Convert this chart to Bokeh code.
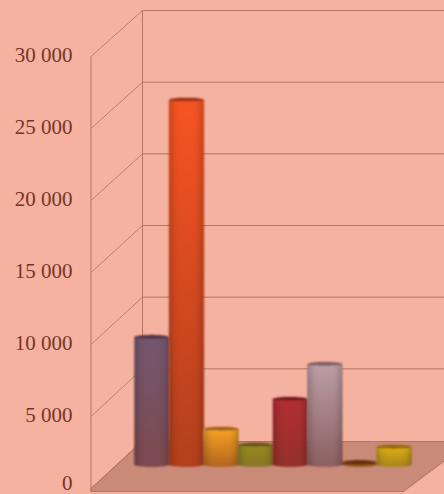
import numpy as np
from bokeh.plotting import figure
from bokeh.models import Range1d, FixedTicker
from bokeh.embed import file_html
from bokeh.resources import INLINE

categories = ["A", "B", "C", "D", "E", "F", "G", "H"]
values = [8800, 25300, 2450, 1340, 4530, 6960, 80, 1200]
top_colors = ["#745670", "#f85322", "#f8a326", "#9a8a22", "#b32d33", "#bca0a8", "#8c4c12", "#e0b014"]
bottom_colors = ["#7c4a50", "#b43f1c", "#b8681e", "#8a7a24", "#96302a", "#8f6062", "#8c4c12", "#ae8a1c"]
tick_values = [0, 5000, 10000, 15000, 20000, 25000, 30000]
tick_labels = ["0", "5 000", "10 000", "15 000", "20 000", "25 000", "30 000"]

BG = "#f6b2a0"
WALL = "#b87262"
FLOOR = "#c98a78"
TEXT = "#733528"

W, H = 444, 494
LEFT = 88
PX_PER_VALUE = 72 / 5000
PX_PER_CAT = 34.6
LABEL_ZERO_PX = 486
BAR_ZERO_PX = 464
FIRST_BAR_PX = 151
ELL_PX = 2.4
PAD_PX = 2
SS = 3


def X(px):
    return (px - FIRST_BAR_PX) / PX_PER_CAT


def Y(py):
    return (LABEL_ZERO_PX - py) / PX_PER_VALUE


p = figure(
    frame_width=W - LEFT, frame_height=H, output_backend="svg", toolbar_location=None,
    x_range=Range1d(X(LEFT), X(W)), y_range=Range1d(Y(H), Y(0)),
    background_fill_color=BG, border_fill_color=BG, outline_line_color=None,
    min_border_left=LEFT, min_border_right=0, min_border_top=0, min_border_bottom=0,
    styles={"background-color": BG},
)
p.xaxis.visible = False
p.grid.visible = False
ax = p.yaxis[0]
ax.ticker = FixedTicker(ticks=tick_values)
ax.major_label_overrides = dict(zip(tick_values, tick_labels))
ax.axis_line_color = None
ax.major_tick_line_color = None
ax.minor_tick_line_color = None
ax.major_label_standoff = 10
ax.major_label_text_font = "Liberation Serif"
ax.major_label_text_font_size = "21px"
ax.major_label_text_color = TEXT

# floor
p.patch([X(90.5), X(142), X(470), X(403), X(90.5)],
        [Y(488), Y(441), Y(441), Y(491), Y(491)],
        fill_color=FLOOR, line_color=WALL, line_width=1)

# walls: back lines, side diagonals
back_px = [440 - v * 430 / 30000 for v in tick_values]
front_px = [488 - v * 432 / 30000 for v in tick_values]
for bp, fp, v in zip(back_px, front_px, tick_values):
    if v:
        p.line([X(142), X(W)], [Y(bp), Y(bp)], line_color=WALL, line_width=1)
    p.line([X(90.5), X(142)], [Y(fp), Y(bp)], line_color=WALL, line_width=1, line_alpha=0.85)
p.line([X(142), X(142)], [Y(back_px[0]), Y(back_px[-1])], line_color=WALL, line_width=1)
p.line([X(90.5), X(90.5)], [Y(491), Y(front_px[-1])], line_color=WALL, line_width=1)


def hex_rgb(c):
    return np.array([int(c[i:i + 2], 16) for i in (1, 3, 5)], float)


def blur(a, axis, n=3, passes=2):
    k = np.ones(2 * n + 1) / (2 * n + 1)
    for _ in range(passes):
        a = np.apply_along_axis(lambda s: np.convolve(s, k, mode="same"), axis, a)
    return a


def cylinder(val, top, bottom):
    """RGBA picture of one soft shaded cylinder, row 0 at its bottom."""
    h_px = val * PX_PER_VALUE
    rows = int(round((h_px + 2 * ELL_PX + 2 * PAD_PX) * SS))
    cols = int(round((PX_PER_CAT + 2 * PAD_PX) * SS))
    yy = (np.arange(rows) + 0.5) / SS - ELL_PX - PAD_PX
    xx = ((np.arange(cols) + 0.5) / SS - PAD_PX) / PX_PER_CAT * 2 - 1
    U, V = np.meshgrid(xx, yy)
    t = np.clip(V / max(h_px, 1), 0, 1)
    c_top, c_bot = hex_rgb(top), hex_rgb(bottom)
    rgb = c_bot[None, None] * (1 - t[..., None]) + c_top[None, None] * t[..., None]
    shade = 1 - 0.24 * np.clip(np.abs(U), 0, 1) ** 4
    rgb = rgb * shade[..., None]
    root = np.sqrt(np.clip(1 - U ** 2, 0, 1))
    inside = (np.abs(U) <= 1) & (V >= -ELL_PX * root) & (V <= h_px + ELL_PX * root)
    cap = V >= h_px - ELL_PX * root * 0.5
    rgb[cap] = c_top * 0.58 + np.array([15, 0, 0])
    alpha = inside.astype(float)
    pre = rgb * alpha[..., None]
    for axis in (0, 1):
        alpha = blur(alpha, axis)
        pre = blur(pre, axis)
    rgb_out = pre / np.maximum(alpha[..., None], 1e-3)
    out = np.zeros((rows, cols), dtype=np.uint32)
    view = out.view(np.uint8).reshape(rows, cols, 4)
    view[..., :3] = np.clip(rgb_out, 0, 255).astype(np.uint8)
    view[..., 3] = (np.clip(alpha, 0, 1) * 255).astype(np.uint8)
    return out


pad_v = (ELL_PX + PAD_PX) / PX_PER_VALUE
pad_c = PAD_PX / PX_PER_CAT
for i, (val, tc, bc) in enumerate(zip(values, top_colors, bottom_colors)):
    p.image_rgba(image=[cylinder(val, tc, bc)], x=[i - 0.5 - pad_c], y=[Y(BAR_ZERO_PX) - pad_v],
                 dw=[1 + 2 * pad_c], dh=[val + 2 * pad_v])

open("out.html", "w").write(file_html(p, INLINE))
